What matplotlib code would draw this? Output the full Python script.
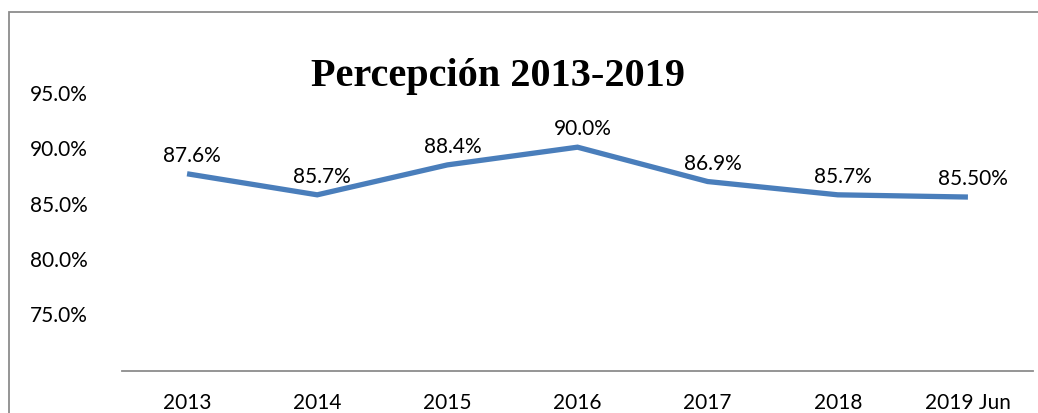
import matplotlib
matplotlib.use("Agg")
import matplotlib.pyplot as plt
from matplotlib.patches import Rectangle

categories = ["2013", "2014", "2015", "2016", "2017", "2018", "2019 Jun"]
values = [87.6, 85.7, 88.4, 90.0, 86.9, 85.7, 85.5]
value_labels = ["87.6%", "85.7%", "88.4%", "90.0%", "86.9%", "85.7%", "85.50%"]
y_ticks = [75.0, 80.0, 85.0, 90.0, 95.0]
title = "Percepción 2013-2019"

W, H = 1038, 414
fig = plt.figure(figsize=(W / 100, H / 100), dpi=100)
fig.patch.set_facecolor("white")

sans = ["Lato", "DejaVu Sans"]

ax = fig.add_axes([122 / W, 1 - 372 / H, (1033 - 122) / W, (372 - 13) / H])
x = list(range(len(categories)))
ax.plot(x, values, color="#4A7EBB", lw=3.8, solid_capstyle="butt", solid_joinstyle="miter")
ax.set_xlim(-0.5, len(categories) - 0.5)
ax.set_ylim(69.8, 102.2)

for xi, v, lab in zip(x, values, value_labels):
    ax.annotate(lab, (xi, v), xytext=(5, 19), textcoords="offset pixels",
                ha="center", va="center", fontsize=15, family=sans, color="black")

ax.set_xticks(x)
ax.set_xticklabels(categories, family=sans, fontsize=15)
ax.set_yticks(y_ticks)
ax.set_yticklabels([f"{t:.1f}%" for t in y_ticks], family=sans, fontsize=15, ha="left")
ax.tick_params(axis="y", length=0, pad=66)
ax.tick_params(axis="x", length=0, pad=15)

for s in ["top", "right", "left"]:
    ax.spines[s].set_visible(False)
ax.spines["bottom"].set_color("#8c8c8c")
ax.spines["bottom"].set_linewidth(1.3)

fig.text(498 / W, 1 - 77 / H, title, ha="center", va="center",
         family=["Liberation Serif", "DejaVu Serif"], fontweight="bold", fontsize=29)

fig.patches.append(Rectangle((9 / W, -0.2), 1.2, 1 - 13 / H + 0.2, transform=fig.transFigure,
                             fill=False, edgecolor="#8c8c8c", lw=1.3, clip_on=False))

fig.savefig("out.png", dpi=100)
